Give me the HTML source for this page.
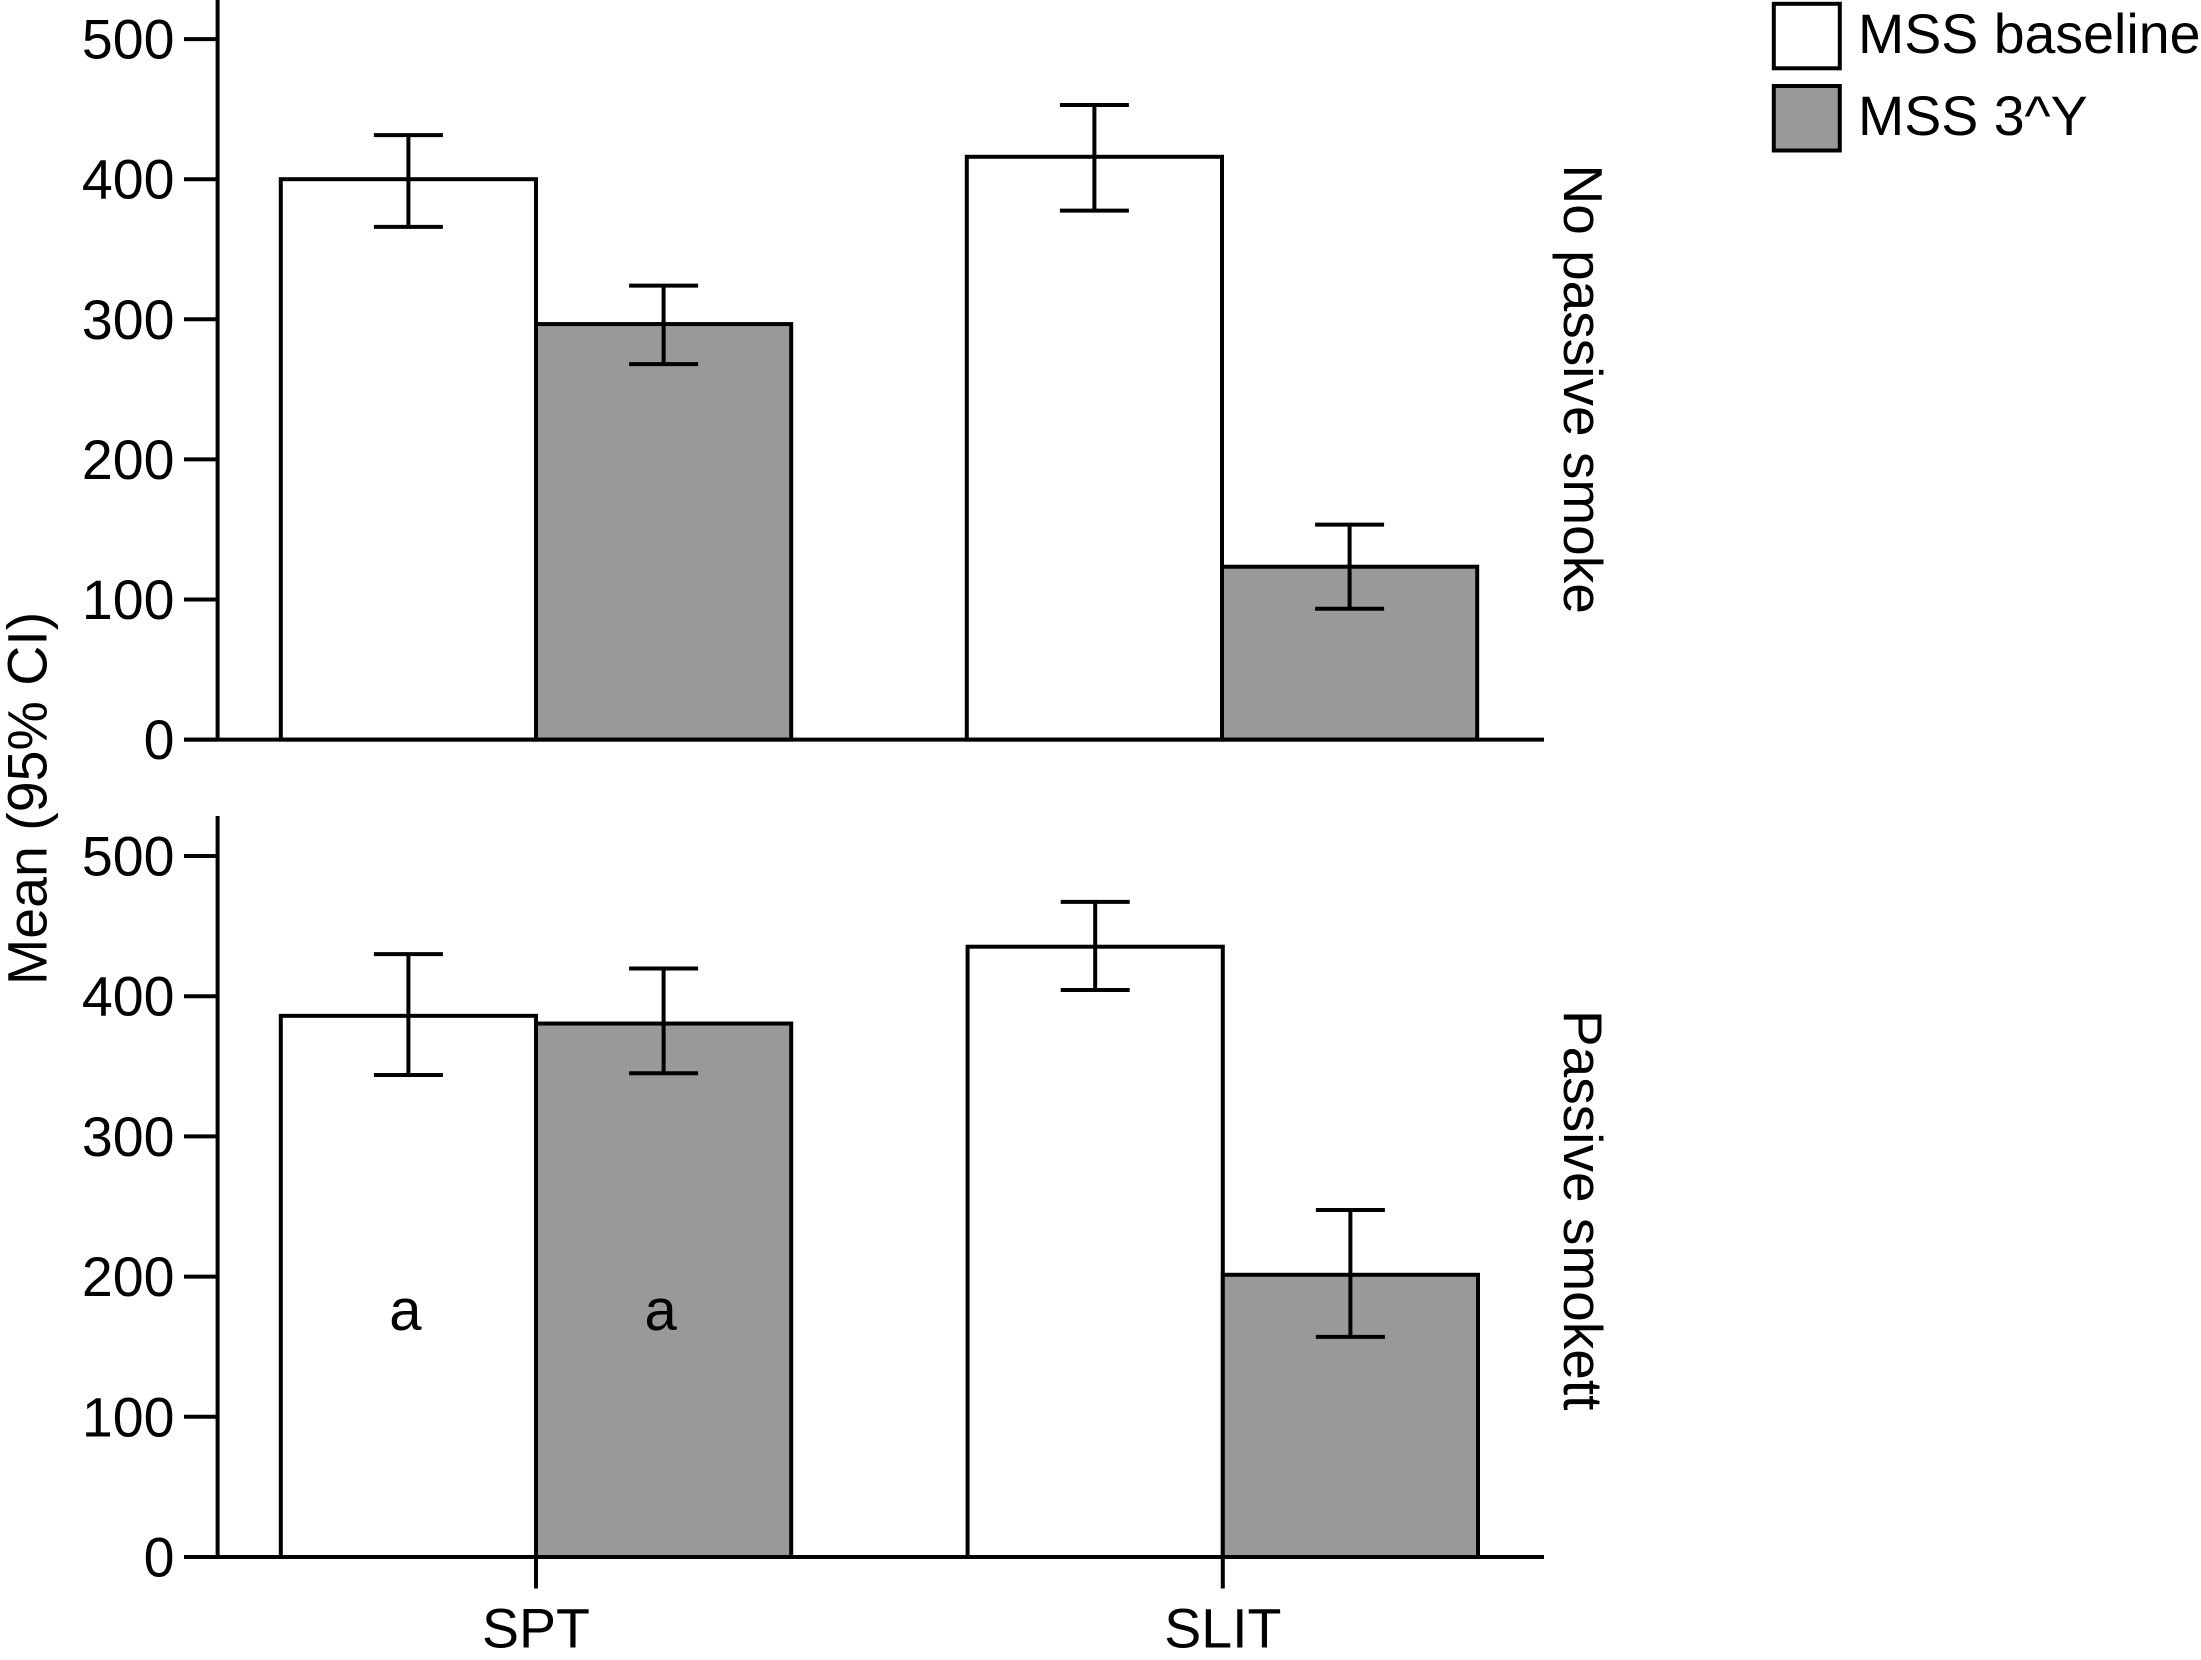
<!DOCTYPE html>
<html lang="en">
<head>
<meta charset="utf-8">
<title>Mean MSS by treatment and passive smoke exposure</title>
<style>
  html, body { margin: 0; padding: 0; background: #fff; }
  svg { display: block; }
  text { font-family: "Liberation Sans", Arial, sans-serif; fill: #000; font-size: 55.5px; }
</style>
</head>
<body>
<svg id="chart" xmlns="http://www.w3.org/2000/svg" width="2201" height="1660" viewBox="0 0 2201 1660">
  <rect x="0" y="0" width="2201" height="1660" fill="#fff"/>
  <text transform="translate(46.7 985) rotate(-90)">Mean (95% CI)</text>
  <g>
    <rect x="1773.8" y="3.8" width="66" height="64.5" fill="#fff" stroke="#000" stroke-width="4"/>
    <text x="1858" y="53">MSS baseline</text>
    <rect x="1773.8" y="86" width="66" height="64.5" fill="#999" stroke="#000" stroke-width="4"/>
    <text x="1858" y="135">MSS 3^Y</text>
  </g>
</svg>
<script>
// ---- data ----
const categories = ['SPT', 'SLIT'];
const seriesNames = ['MSS baseline', 'MSS 3^Y'];
const seriesFills = ['#fff', '#999'];
const yTickValues = [0, 100, 200, 300, 400, 500];
const panelLabels = ['No passive smoke', 'Passive smokett'];

const noSmokeBaseline = [400, 416];
const noSmokeBaselineHigh = [431.5, 453];
const noSmokeBaselineLow = [366, 377.6];
const noSmokeFollowUp = [296.6, 123.4];
const noSmokeFollowUpHigh = [324, 153.4];
const noSmokeFollowUpLow = [268, 93.4];

const smokeBaseline = [386, 435.3];
const smokeBaselineHigh = [430, 467.3];
const smokeBaselineLow = [343.8, 404.4];
const smokeFollowUp = [380.5, 201.3];
const smokeFollowUpHigh = [419.8, 247.5];
const smokeFollowUpLow = [345, 157];

const annotationLabels = ['a', 'a'];
const annotationValues = [162, 162];

// ---- layout and axis functions ----
const svg = document.getElementById('chart');
const NS = 'http://www.w3.org/2000/svg';
const axisX = 217.6, tickLeft = 184, axisRight = 1544;
const groupStart = 536, barWidth = 255.2;
const capHalf = 34.5, lineW = 4;

const xGroup = (panel, i) => groupStart + i * panel.groupStep;
const xBarLeft = (panel, i, s) => xGroup(panel, i) - barWidth + s * barWidth;
const xBarCenter = (panel, i, s) => xBarLeft(panel, i, s) + barWidth / 2;

function scaleY(panel, v) { return panel.zero - v * panel.pxPerUnit; }

function addLine(parent, x1, y1, x2, y2) {
  const el = document.createElementNS(NS, 'line');
  el.setAttribute('x1', x1);
  el.setAttribute('y1', y1);
  el.setAttribute('x2', x2);
  el.setAttribute('y2', y2);
  el.setAttribute('stroke', '#000');
  el.setAttribute('stroke-width', lineW);
  parent.appendChild(el);
  return el;
}

function addGroup(parent) {
  const g = document.createElementNS(NS, 'g');
  parent.appendChild(g);
  return g;
}

const panels = [
  { key: 'no-passive-smoke', zero: 739.6, pxPerUnit: 1.401, axisTop: 0, groupStep: 686, label: panelLabels[0], labelY: 164.5,
    values: [noSmokeBaseline, noSmokeFollowUp],
    highs: [noSmokeBaselineHigh, noSmokeFollowUpHigh],
    lows: [noSmokeBaselineLow, noSmokeFollowUpLow], xTicks: false },
  { key: 'passive-smoke', zero: 1557, pxPerUnit: 1.402, axisTop: 816, groupStep: 686.8, label: panelLabels[1], labelY: 1010,
    values: [smokeBaseline, smokeFollowUp],
    highs: [smokeBaselineHigh, smokeFollowUpHigh],
    lows: [smokeBaselineLow, smokeFollowUpLow], xTicks: true }
];

panels.forEach((panel) => {
  const pg = addGroup(svg);
  
  

  // bars
  panel.values.forEach((vals, s) => {
    vals.forEach((v, i) => {
      const bar = document.createElementNS(NS, 'rect');
      bar.setAttribute('x', xBarLeft(panel, i, s));
      bar.setAttribute('y', scaleY(panel, v));
      bar.setAttribute('width', barWidth);
      bar.setAttribute('height', panel.zero - scaleY(panel, v));
      bar.setAttribute('fill', seriesFills[s]);
      bar.setAttribute('stroke', '#000');
      bar.setAttribute('stroke-width', lineW);
      
      
      pg.appendChild(bar);
    });
  });

  // error bars
  panel.values.forEach((vals, s) => {
    vals.forEach((v, i) => {
      const eg = addGroup(pg);
      
      
      const cx = xBarCenter(panel, i, s);
      const yHi = scaleY(panel, panel.highs[s][i]);
      const yLo = scaleY(panel, panel.lows[s][i]);
      addLine(eg, cx, yHi, cx, yLo);
      addLine(eg, cx - capHalf, yHi, cx + capHalf, yHi);
      addLine(eg, cx - capHalf, yLo, cx + capHalf, yLo);
    });
  });

  // y axis
  const yAxis = addLine(pg, axisX, panel.axisTop, axisX, panel.zero);
  
  

  // x axis
  const xAxis = addLine(pg, tickLeft, panel.zero, axisRight, panel.zero);
  
  

  // y ticks and labels
  yTickValues.forEach((t) => {
    const ty = scaleY(panel, t);
    const tick = addLine(pg, tickLeft, ty, axisX, ty);
    
    
    const label = document.createElementNS(NS, 'text');
    label.setAttribute('x', 174.5);
    label.setAttribute('y', ty + 19.5);
    label.setAttribute('text-anchor', 'end');
    label.textContent = String(t);
    
    
    pg.appendChild(label);
  });

  // x ticks and labels
  if (panel.xTicks) {
    categories.forEach((c, i) => {
      const tick = addLine(pg, xGroup(panel, i), panel.zero, xGroup(panel, i), 1588.5);
      
      
      const label = document.createElementNS(NS, 'text');
      label.setAttribute('x', xGroup(panel, i));
      label.setAttribute('y', 1647.5);
      label.setAttribute('text-anchor', 'middle');
      label.textContent = c;
      
      
      pg.appendChild(label);
    });
  }

  // panel label
  const facet = document.createElementNS(NS, 'text');
  facet.setAttribute('transform', 'translate(1564 ' + panel.labelY + ') rotate(90)');
  facet.setAttribute('style', 'font-size:55px');
  facet.textContent = panel.label;
  
  
  pg.appendChild(facet);
});

// significance annotations (SPT group, passive smoke panel)
annotationLabels.forEach((txt, s) => {
  const note = document.createElementNS(NS, 'text');
  note.setAttribute('x', xBarCenter(panels[1], 0, s) - 3);
  note.setAttribute('y', scaleY(panels[1], annotationValues[s]));
  note.setAttribute('text-anchor', 'middle');
  note.setAttribute('style', 'font-size:58px');
  note.textContent = txt;
  
  
  svg.appendChild(note);
});
</script>
</body>
</html>
